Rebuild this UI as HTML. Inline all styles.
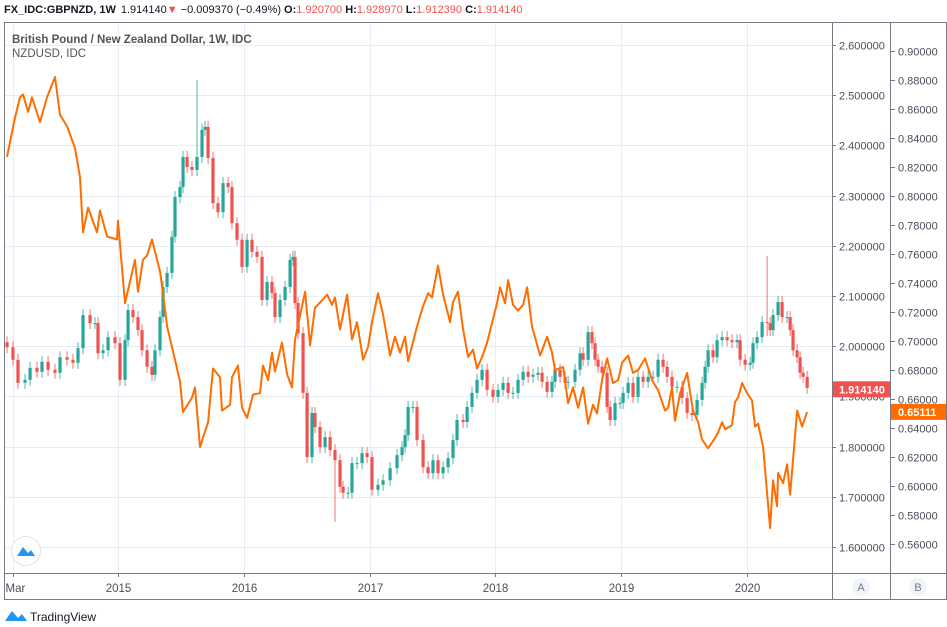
<!DOCTYPE html>
<html><head><meta charset="utf-8">
<style>
body{margin:0;background:#fff;width:947px;height:627px;overflow:hidden;font-family:"Liberation Sans",sans-serif;}
svg{position:absolute;left:0;top:0;}
text{font-family:"Liberation Sans",sans-serif;}
</style></head><body>
<svg id="chart" width="947" height="627" xmlns="http://www.w3.org/2000/svg">
  <text x="4" y="13" font-size="11"><tspan font-weight="bold" fill="#131722">FX_IDC:GBPNZD, 1W</tspan><tspan fill="#131722" dx="5">1.914140</tspan><tspan fill="#ef5350">▼</tspan><tspan fill="#131722"> −0.009370 (−0.49%) </tspan><tspan font-weight="bold" fill="#131722">O:</tspan><tspan fill="#ef5350">1.920700 </tspan><tspan font-weight="bold" fill="#131722">H:</tspan><tspan fill="#ef5350">1.928970 </tspan><tspan font-weight="bold" fill="#131722">L:</tspan><tspan fill="#ef5350">1.912390 </tspan><tspan font-weight="bold" fill="#131722">C:</tspan><tspan fill="#ef5350">1.914140</tspan></text>
  <g id="grid"></g>
  <g id="marks"></g>
  <rect x="4.5" y="22.5" width="828" height="577" fill="none" stroke="#787b86" stroke-width="1"/>
  <line x1="832.5" y1="22" x2="832.5" y2="600" stroke="#787b86"/>
  <line x1="890.5" y1="22" x2="890.5" y2="600" stroke="#787b86"/>
  <line x1="946.5" y1="22" x2="946.5" y2="600" stroke="#787b86"/>
  <line x1="4" y1="573.5" x2="947" y2="573.5" stroke="#787b86"/>
  <line x1="832" y1="22.5" x2="947" y2="22.5" stroke="#787b86"/>
  <line x1="4" y1="599.5" x2="947" y2="599.5" stroke="#787b86"/>
  <g id="axes"></g>
  <text x="12" y="43" font-size="11.5" font-weight="bold" fill="#555">British Pound / New Zealand Dollar, 1W, IDC</text>
  <text x="12" y="57" font-size="11.5" fill="#555">NZDUSD, IDC</text>
  <g>
    <circle cx="26" cy="551" r="14.5" fill="#fff" stroke="#e0e3eb"/>
    <path d="M17 556 L23 547 L28 553 L31 550 L35 556 Z" fill="#2196f3"/>
  </g>
  <circle cx="861" cy="587" r="9" fill="#f0f3fa"/>
  <text x="861" y="591" font-size="11" fill="#787b86" text-anchor="middle">A</text>
  <circle cx="918" cy="587" r="9" fill="#f0f3fa"/>
  <text x="918" y="591" font-size="11" fill="#787b86" text-anchor="middle">B</text>
  <g>
    <path d="M5 621 L12 611 L18 618 L22 614 L27 621 Z" fill="#2196f3"/>
    <text x="30" y="621" font-size="12" fill="#131722">TradingView</text>
  </g>
</svg>
<script>
const candleDates=[2014.118,2014.165,2014.205,2014.261,2014.301,2014.356,2014.396,2014.444,2014.499,2014.539,2014.595,2014.642,2014.682,2014.722,2014.778,2014.817,2014.841,2014.881,2014.921,2014.976,2015.016,2015.056,2015.080,2015.119,2015.159,2015.191,2015.231,2015.270,2015.294,2015.334,2015.358,2015.390,2015.429,2015.453,2015.493,2015.517,2015.549,2015.588,2015.628,2015.668,2015.692,2015.716,2015.755,2015.795,2015.835,2015.875,2015.906,2015.946,2015.986,2016.026,2016.065,2016.105,2016.145,2016.185,2016.224,2016.248,2016.288,2016.328,2016.368,2016.391,2016.407,2016.431,2016.471,2016.503,2016.542,2016.566,2016.606,2016.646,2016.686,2016.725,2016.765,2016.789,2016.829,2016.860,2016.900,2016.940,2016.980,2017.019,2017.067,2017.107,2017.163,2017.218,2017.258,2017.282,2017.306,2017.345,2017.377,2017.425,2017.465,2017.504,2017.544,2017.584,2017.624,2017.663,2017.695,2017.743,2017.775,2017.814,2017.854,2017.894,2017.934,2017.981,2018.021,2018.061,2018.101,2018.140,2018.180,2018.220,2018.260,2018.299,2018.339,2018.371,2018.411,2018.450,2018.474,2018.514,2018.554,2018.578,2018.633,2018.673,2018.697,2018.737,2018.768,2018.792,2018.816,2018.848,2018.888,2018.912,2018.951,2018.991,2019.015,2019.055,2019.094,2019.134,2019.174,2019.214,2019.253,2019.293,2019.333,2019.365,2019.404,2019.444,2019.484,2019.524,2019.563,2019.603,2019.643,2019.667,2019.691,2019.730,2019.762,2019.802,2019.842,2019.881,2019.921,2019.945,2019.985,2020.025,2020.048,2020.080,2020.120,2020.160,2020.184,2020.207,2020.247,2020.279,2020.319,2020.343,2020.366,2020.398,2020.422,2020.446,2020.478];
const closes=[1.998,1.973,1.927,1.933,1.957,1.949,1.969,1.953,1.947,1.978,1.973,1.967,1.996,2.062,2.046,2.046,1.986,1.992,2.018,2.006,1.933,2.012,2.072,2.058,2.032,1.992,1.959,1.943,1.992,2.058,2.118,2.146,2.218,2.297,2.317,2.377,2.357,2.351,2.377,2.431,2.437,2.375,2.285,2.267,2.325,2.317,2.245,2.212,2.158,2.212,2.188,2.178,2.092,2.128,2.106,2.058,2.092,2.118,2.172,2.178,2.086,2.026,1.907,1.779,1.867,1.839,1.799,1.819,1.793,1.773,1.720,1.708,1.708,1.767,1.767,1.787,1.779,1.714,1.724,1.733,1.757,1.783,1.799,1.823,1.879,1.879,1.813,1.759,1.747,1.773,1.747,1.759,1.777,1.813,1.853,1.849,1.879,1.907,1.933,1.953,1.913,1.899,1.913,1.927,1.907,1.907,1.933,1.949,1.939,1.943,1.947,1.929,1.909,1.929,1.953,1.939,1.927,1.929,1.953,1.986,1.973,2.028,2.006,1.973,1.959,1.947,1.879,1.853,1.887,1.887,1.907,1.927,1.899,1.939,1.929,1.939,1.939,1.973,1.959,1.939,1.919,1.919,1.897,1.867,1.863,1.893,1.927,1.959,1.992,1.978,2.012,2.018,2.012,2.008,2.012,1.973,1.963,1.967,2.006,2.018,2.048,2.046,2.032,2.062,2.088,2.058,2.058,2.032,1.992,1.978,1.947,1.939,1.917];
const spikeDates=[2015.650,2016.740,2020.170];
const spikeHighs=[2.530,1.760,2.180];
const spikeLows=[2.440,1.650,2.020];
const nzdDates=[2014.118,2014.181,2014.221,2014.245,2014.285,2014.316,2014.380,2014.436,2014.499,2014.539,2014.595,2014.658,2014.698,2014.722,2014.762,2014.833,2014.857,2014.913,2014.992,2015.000,2015.056,2015.135,2015.159,2015.199,2015.231,2015.270,2015.334,2015.358,2015.390,2015.453,2015.493,2015.517,2015.588,2015.612,2015.652,2015.716,2015.755,2015.811,2015.827,2015.891,2015.906,2015.954,2015.986,2016.026,2016.073,2016.129,2016.153,2016.193,2016.224,2016.248,2016.304,2016.344,2016.383,2016.407,2016.487,2016.527,2016.566,2016.622,2016.662,2016.701,2016.725,2016.765,2016.821,2016.860,2016.900,2016.948,2016.988,2017.019,2017.067,2017.107,2017.163,2017.202,2017.242,2017.282,2017.306,2017.377,2017.425,2017.465,2017.496,2017.544,2017.584,2017.640,2017.663,2017.703,2017.743,2017.783,2017.822,2017.854,2017.894,2017.934,2018.013,2018.037,2018.077,2018.101,2018.140,2018.180,2018.220,2018.252,2018.291,2018.355,2018.411,2018.450,2018.474,2018.538,2018.578,2018.617,2018.657,2018.697,2018.737,2018.776,2018.808,2018.848,2018.888,2018.935,2018.975,2019.007,2019.055,2019.094,2019.134,2019.190,2019.245,2019.293,2019.349,2019.373,2019.404,2019.428,2019.468,2019.524,2019.571,2019.611,2019.643,2019.691,2019.746,2019.770,2019.802,2019.826,2019.881,2019.905,2019.929,2019.961,2020.001,2020.040,2020.064,2020.088,2020.128,2020.184,2020.207,2020.239,2020.247,2020.287,2020.319,2020.343,2020.366,2020.398,2020.438,2020.478];
const nzdValues=[0.827,0.854,0.868,0.870,0.858,0.868,0.851,0.868,0.882,0.856,0.848,0.833,0.813,0.775,0.792,0.775,0.790,0.772,0.770,0.783,0.726,0.756,0.734,0.756,0.759,0.770,0.748,0.733,0.710,0.687,0.672,0.651,0.661,0.668,0.627,0.644,0.681,0.675,0.652,0.656,0.675,0.683,0.654,0.647,0.663,0.664,0.683,0.673,0.692,0.679,0.699,0.677,0.668,0.701,0.734,0.697,0.723,0.728,0.732,0.725,0.730,0.708,0.732,0.701,0.713,0.687,0.696,0.713,0.733,0.718,0.690,0.703,0.692,0.703,0.686,0.710,0.724,0.733,0.730,0.752,0.732,0.713,0.727,0.734,0.708,0.689,0.694,0.681,0.689,0.699,0.726,0.737,0.726,0.742,0.725,0.721,0.725,0.737,0.710,0.690,0.703,0.692,0.680,0.682,0.657,0.668,0.654,0.668,0.643,0.656,0.650,0.673,0.688,0.671,0.673,0.685,0.690,0.678,0.680,0.688,0.673,0.666,0.652,0.654,0.668,0.645,0.664,0.678,0.652,0.644,0.632,0.626,0.633,0.637,0.644,0.639,0.642,0.658,0.661,0.671,0.664,0.659,0.641,0.643,0.627,0.571,0.604,0.586,0.609,0.602,0.615,0.594,0.618,0.652,0.641,0.651];
const ticksA=[2.6,2.5,2.4,2.3,2.2,2.1,2.0,1.9,1.8,1.7,1.6];
const ticksB=[0.90,0.88,0.86,0.84,0.82,0.80,0.78,0.76,0.74,0.72,0.70,0.68,0.66,0.64,0.62,0.60,0.58,0.56];
const timeTicks=[2014.167,2015,2016,2017,2018,2019,2020];
const timeLabels=["Mar","2015","2016","2017","2018","2019","2020"];
const lastA=1.914140, lastB=0.65111;

const NS='http://www.w3.org/2000/svg';
function xT(t){return 118+(t-2015)*125.8;}
function yA(p){return 45+(2.6-p)*502;}
function yB(v){return 51+(0.90-v)*1450;}
function mk(tag,attrs,parent){const e=document.createElementNS(NS,tag);for(const k in attrs)e.setAttribute(k,attrs[k]);parent.appendChild(e);return e;}
const grid=document.getElementById('grid'),marks=document.getElementById('marks'),axes=document.getElementById('axes');

ticksA.forEach(p=>{const y=Math.round(yA(p))+0.5;
  const g=mk('line',{x1:5,x2:832,y1:y,y2:y,stroke:'#e6edf5'},grid);
  
  
  const tk=mk('line',{x1:832,x2:836,y1:y,y2:y,stroke:'#787b86'},axes);
  
  
  const t=mk('text',{x:839,y:y+4,'font-size':11,fill:'#4a4e59'},axes);t.textContent=p.toFixed(6);
  
  
});
ticksB.forEach(v=>{const y=Math.round(yB(v))+0.5;
  const tk=mk('line',{x1:891,x2:895,y1:y,y2:y,stroke:'#787b86'},axes);
  
  
  const t=mk('text',{x:898,y:y+4,'font-size':11,fill:'#4a4e59'},axes);t.textContent=v.toFixed(5);
  
  
});
timeTicks.forEach((tt,i)=>{const x=Math.round(xT(tt))+0.5;
  const g=mk('line',{x1:x,x2:x,y1:23,y2:573,stroke:'#e6edf5'},grid);
  
  
  const tk=mk('line',{x1:x,x2:x,y1:573,y2:577,stroke:'#787b86'},axes);
  
  
  const t=mk('text',{x:i===0?x-8:x,y:592,'font-size':11.5,fill:'#4a4e59','text-anchor':i===0?'start':'middle'},axes);t.textContent=timeLabels[i];
  
  
});

// candles
const used={};
closes.forEach((c,i)=>{
  const o=i>0?closes[i-1]:c+0.01;
  const up=c>=o;const col=up?'#26a69a':'#ef5350';
  const x=xT(candleDates[i]);
  let hi=Math.max(o,c)+0.012,lo=Math.min(o,c)-0.012;
  spikeDates.forEach((sd,k)=>{if(!used[k]&&Math.abs(sd-candleDates[i])<0.025){used[k]=1;hi=Math.max(hi,spikeHighs[k]);lo=Math.min(lo,spikeLows[k]);}});
  const w=mk('line',{x1:x,x2:x,y1:yA(hi),y2:yA(lo),stroke:col,'stroke-width':1,opacity:0.8},marks);
  
  
  const top=yA(Math.max(o,c)),bot=yA(Math.min(o,c));
  const b=mk('rect',{x:x-1.6,y:top,width:3.2,height:Math.max(1,bot-top),fill:col},marks);
  
  
});
// nzd line
const d=nzdValues.map((v,i)=>(i?'L':'M')+xT(nzdDates[i]).toFixed(1)+' '+yB(v).toFixed(1)).join(' ');
const ln=mk('path',{d:d,fill:'none',stroke:'#ff6d00','stroke-width':2,'stroke-linejoin':'round'},marks);



// price labels
const ya=yA(lastA);
const la=mk('rect',{x:833,y:ya-8,width:57,height:16,fill:'#ef5350'},axes);


const lt=mk('text',{x:839,y:ya+4,'font-size':11,fill:'#fff','font-weight':'bold'},axes);lt.textContent=lastA.toFixed(6);


const yb=yB(lastB);
const lb=mk('rect',{x:891,y:yb-8,width:55,height:16,fill:'#ff6d00'},axes);


const lbt=mk('text',{x:898,y:yb+4,'font-size':11,fill:'#fff','font-weight':'bold'},axes);lbt.textContent=lastB.toFixed(5);


</script>
</body></html>
